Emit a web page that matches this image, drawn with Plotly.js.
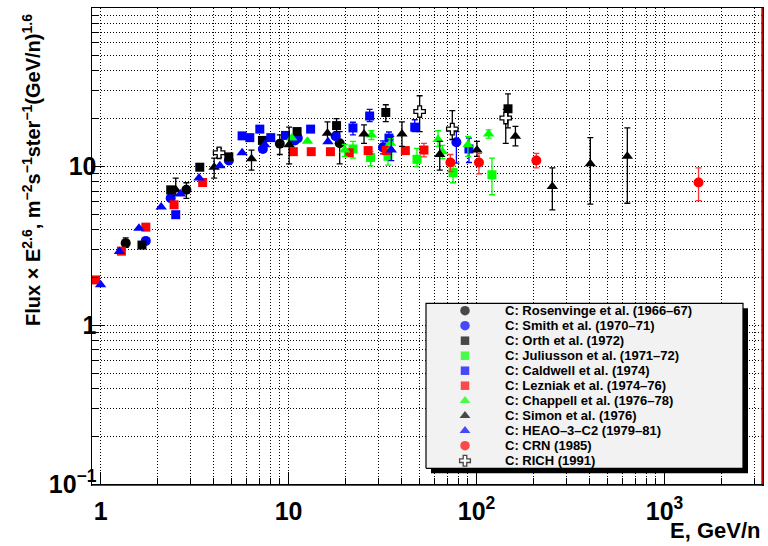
<!DOCTYPE html>
<html><head><meta charset="utf-8">
<script src="https://cdn.plot.ly/plotly-3.0.1.min.js"></script>
<style>html,body{margin:0;padding:0;background:#fff}#chart{width:768px;height:546px}</style>
</head><body><div id="chart"></div>
<script>
// ---- data (E in GeV/n, Flux x E^2.6) ----
const rosenX = [1.36, 2.86, 8.98, 18.7];
const rosenY = [3.29, 7.13, 13.9, 14.0];
const rosenHi = [3.55, 7.9, 15.8, 16.6];
const rosenLo = [3.1, 6.3, 11.9, 10.4];

const smithX = [1.74, 2.36, 4.81, 7.3, 10.8, 11.2, 17.8, 31.8, 78.1];
const smithY = [3.4, 6.32, 10.9, 12.9, 14.6, 15.1, 15.5, 13.2, 14.2];
const smithHi = [null, null, null, null, null, null, null, 14.5, 16.6];
const smithLo = [null, null, null, null, null, null, null, 12.0, 10.5];

const orthX = [1.66, 2.36, 3.37, 4.81, 7.26, 11.1, 18.0, 32.9, 147];
const orthY = [3.2, 7.13, 9.9, 11.5, 14.6, 16.6, 18.1, 21.9, 23.1];
const orthHi = [null, null, null, null, null, null, 20.0, 24.5, 28.7];
const orthLo = [null, null, null, null, null, null, 16.6, 19.2, 17.5];

const juliX = [22.0, 27.3, 33.8, 48.2, 75, 120.8];
const juliY = [12.9, 11.4, 11.6, 11.1, 9.16, 8.87];
const juliHi = [14.4, 12.4, 12.7, 13.0, 10.1, 11.3];
const juliLo = [11.3, 10.1, 10.2, 10.0, 7.9, 6.64];

const caldX = [2.51, 5.66, 6.22, 7.03, 8.04, 9.63, 13.1, 22.0, 27.0, 34.2, 46.9, 91.1];
const caldY = [4.97, 15.6, 15.2, 17.2, 15.2, 15.7, 17.2, 17.5, 20.8, 15.1, 17.7, 12.9];
const caldHi = [null, null, null, null, null, null, null, 19.0, 22.9, 16.5, 19.7, 15.1];
const caldLo = [null, null, null, null, null, null, null, 15.8, 19.2, 13.8, 16.6, 10.6];

const lezX = [0.94, 1.29, 1.74, 2.46, 3.49, 10.6, 13.2, 16.7, 21.0, 26.5, 33.1, 41.8, 52.5];
const lezY = [1.93, 2.93, 4.15, 5.74, 7.93, 12.4, 12.4, 12.4, 12.2, 12.6, 12.6, 12.6, 12.7];
const lezHi = [null, null, null, null, null, null, null, null, null, null, null, null, 14.0];
const lezLo = [null, null, null, null, null, null, null, null, null, null, null, null, 11.5];

const chapX = [10.4, 12.6, 19.9, 27.6, 34.8, 62.4, 65.8, 90, 116];
const chapY = [15.1, 14.4, 12.7, 15.8, 14.0, 14.8, 12.4, 13.7, 16.0];
const chapHi = [null, null, 13.8, 16.8, 15.0, 16.8, 13.6, 15.5, 17.0];
const chapLo = [null, null, 11.6, 14.8, 13.0, 13.4, 11.2, 11.6, 15.1];

const simonX = [2.51, 4.02, 6.35, 10.07, 16.1, 25.2, 40.1, 63.7, 100.5, 161, 253, 403, 634];
const simonY = [7.13, 9.9, 11.2, 13.7, 16.2, 16.0, 16.0, 11.9, 12.7, 15.5, 7.48, 10.4, 11.6];
const simonHi = [8.45, 11.3, 12.7, 17.7, 19.1, 18.3, 19.1, 14.4, 14.4, 17.9, 9.8, 15.2, 17.5];
const simonLo = [6.6, 8.45, 9.5, 10.4, 14.0, 14.0, 13.4, 9.5, 11.6, 13.5, 5.33, 5.8, 5.87];

const heaoX = [1.0, 1.26, 1.60, 2.10, 2.66, 3.34, 4.31, 5.66, 7.47, 16.2, 35.2];
const heaoY = [1.8, 2.91, 4.09, 5.55, 6.7, 8.45, 10.1, 12.2, 13.7, 14.3, 12.7];
const heaoHi = [null, null, null, null, null, null, null, null, null, null, 15.5];
const heaoLo = [null, null, null, null, null, null, null, null, null, null, 10.9];

const crnX = [72.6, 103, 208, 1517];
const crnY = [10.6, 10.6, 10.9, 7.93];
const crnHi = [11.9, 12.1, 12.1, 9.8];
const crnLo = [9.3, 9.0, 9.8, 6.1];

const richX = [4.27, 49.8, 74.3, 143];
const richY = [12.2, 22.2, 17.2, 20.2];
const richHi = [13.0, 27.9, 22.5, 22.9];
const richLo = [11.4, 16.6, 14.8, 14.0];

const seriesNames = [
  'C: Rosenvinge et al. (1966\u201367)',
  'C: Smith et al. (1970\u201371)',
  'C: Orth et al. (1972)',
  'C: Juliusson et al. (1971\u201372)',
  'C: Caldwell et al. (1974)',
  'C: Lezniak et al. (1974\u201376)',
  'C: Chappell et al. (1976\u201378)',
  'C: Simon et al. (1976)',
  'C: HEAO\u20133\u2013C2 (1979\u201381)',
  'C: CRN (1985)',
  'C: RICH (1991)'
];

// ---- styles ----
const FONT = 'Liberation Sans, Arial, Helvetica, sans-serif';
const styles = [
  {sym: 'circle', col: '#000000', size: 10},
  {sym: 'circle', col: '#0000ff', size: 10},
  {sym: 'square', col: '#000000', size: 9},
  {sym: 'square', col: '#00ff00', size: 9},
  {sym: 'square', col: '#0000ff', size: 9},
  {sym: 'square', col: '#ff0000', size: 9},
  {sym: 'triangle-up', col: '#00ff00', size: 10},
  {sym: 'triangle-up', col: '#000000', size: 10},
  {sym: 'triangle-up', col: '#0000ff', size: 10},
  {sym: 'circle', col: '#ff0000', size: 10},
  {sym: 'cross', col: '#ffffff', size: 9.5, line: '#000000'}
];
const errCols = ['#000000', '#0000ff', '#000000', '#00ff00', '#0000ff', '#ff3333',
                 '#00ff00', '#000000', '#0000ff', '#ff3333', '#000000'];

const dataSets = [
  [rosenX, rosenY, rosenHi, rosenLo],
  [smithX, smithY, smithHi, smithLo],
  [orthX, orthY, orthHi, orthLo],
  [juliX, juliY, juliHi, juliLo],
  [caldX, caldY, caldHi, caldLo],
  [lezX, lezY, lezHi, lezLo],
  [chapX, chapY, chapHi, chapLo],
  [simonX, simonY, simonHi, simonLo],
  [heaoX, heaoY, heaoHi, heaoLo],
  [crnX, crnY, crnHi, crnLo],
  [richX, richY, richHi, richLo]
];

const traces = dataSets.map((d, i) => {
  const [xs, ys, hi, lo] = d;
  const plus = ys.map((v, k) => hi[k] == null ? 0 : hi[k] - v);
  const minus = ys.map((v, k) => lo[k] == null ? 0 : v - lo[k]);
  const st = styles[i];
  return {
    type: 'scatter', mode: 'markers', name: seriesNames[i], x: xs, y: ys,
    showlegend: false,
    marker: {symbol: st.sym, color: st.col, size: st.size,
             line: {color: st.line || st.col, width: st.line ? 1.3 : 0}},
    error_y: {type: 'data', symmetric: false, array: plus, arrayminus: minus,
              color: errCols[i], thickness: 1.3, width: 3}
  };
});

// ---- custom legend (ROOT-like box) on an overlaid unit subplot ----
const plotL = 92, plotR = 762, plotT = 8, plotB = 484;
const pw = plotR - plotL, ph = plotB - plotT;
const px2x = p => (p - plotL) / pw;
const py2y = p => (plotB - p) / ph;
const legRow0 = 310.7, legStep = 15;
const legKeyX = 465, legTextX = 503;
const legBox = {x0: 426, x1: 743, y0: 303.3, y1: 468.3};

function boxTrace(dx, dy, fill, lineW) {
  const xa = px2x(legBox.x0 + dx), xb = px2x(legBox.x1 + dx);
  const ya = py2y(legBox.y1 + dy), yb = py2y(legBox.y0 + dy);
  return {
    type: 'scatter', mode: 'lines', xaxis: 'x2', yaxis: 'y2', showlegend: false,
    hoverinfo: 'skip', fill: 'toself', fillcolor: fill,
    x: [xa, xb, xb, xa, xa], y: [ya, ya, yb, yb, ya],
    line: {color: '#000000', width: lineW}
  };
}
traces.push(boxTrace(5, 5, '#000000', 0));
traces.push(boxTrace(0, 0, '#f2f2f2', 1.2));

traces.push({
  type: 'scatter', mode: 'markers', xaxis: 'x2', yaxis: 'y2', showlegend: false,
  hoverinfo: 'skip',
  x: seriesNames.map(() => px2x(legKeyX)),
  y: seriesNames.map((_, i) => py2y(legRow0 + i * legStep)),
  marker: {
    symbol: styles.map(s => s.sym),
    color: styles.map(s => s.col),
    size: styles.map(s => s.size - 0.5),
    line: {color: styles.map(s => s.line || s.col), width: styles.map(s => s.line ? 1.3 : 0)}
  }
});

const annotations = seriesNames.map((n, i) => ({
  xref: 'paper', yref: 'paper', x: px2x(legTextX), y: py2y(legRow0 + i * legStep),
  xanchor: 'left', yanchor: 'middle', showarrow: false, text: n,
  font: {family: FONT, size: 13, color: '#000', weight: 'bold'}
}));

annotations.push({
  xref: 'paper', yref: 'paper', x: px2x(31), y: py2y(170), textangle: -90,
  xanchor: 'center', yanchor: 'middle', showarrow: false,
  text: 'Flux \u00d7 E<sup>2.6</sup>, m<sup>\u22122</sup>s<sup>\u22121</sup>ster<sup>\u22121</sup>(GeV/n)<sup>1.6</sup>',
  font: {family: FONT, size: 20, color: '#000', weight: 'bold'}
});
annotations.push({
  xref: 'paper', yref: 'paper', x: 1, y: py2y(530),
  xanchor: 'right', yanchor: 'middle', showarrow: false,
  text: 'E, GeV/n',
  font: {family: FONT, size: 22, color: '#000', weight: 'bold'}
});

const shapes = [
  {type: 'line', xref: 'paper', yref: 'paper', layer: 'above',
   x0: 1, x1: 1, y0: 0, y1: 1, line: {color: '#ff0000', width: 1.5}},
  {type: 'line', xref: 'paper', yref: 'paper', layer: 'above',
   ysizemode: 'pixel', yanchor: 0, y0: -1.5, y1: -1.5, x0: 0, x1: 1,
   line: {color: '#ff0000', width: 1.2}}
];

const gridStyle = {showgrid: true, gridcolor: '#000000', griddash: '1px,2px', gridwidth: 1};
const tickFont = {family: FONT, size: 20, color: '#000', weight: 'bold'};

const layout = {
  width: 768, height: 546,
  margin: {l: plotL, r: 768 - plotR, t: plotT, b: 546 - plotB, pad: 0},
  paper_bgcolor: '#ffffff', plot_bgcolor: '#ffffff',
  showlegend: false,
  xaxis: Object.assign({
    type: 'log', range: [Math.log10(0.9), Math.log10(3300)], dtick: 1,
    exponentformat: 'power', ticks: 'inside', ticklen: 12, tickwidth: 1, tickcolor: '#000',
    showline: true, linecolor: '#000', linewidth: 1.5, mirror: true, zeroline: false,
    tickfont: tickFont, ticklabelstandoff: 5,
    minor: Object.assign({dtick: 'D1', ticks: 'inside', ticklen: 6, tickcolor: '#000', tickwidth: 1}, gridStyle)
  }, gridStyle),
  yaxis: Object.assign({
    type: 'log', range: [-1, 1.9985], dtick: 1,
    exponentformat: 'power', ticks: 'inside', ticklen: 12, tickwidth: 1, tickcolor: '#000',
    showline: true, linecolor: '#000', linewidth: 1.5, mirror: true, zeroline: false,
    tickfont: tickFont, ticklabelstandoff: -10,
    minor: Object.assign({dtick: 'D1', ticks: 'inside', ticklen: 6, tickcolor: '#000', tickwidth: 1}, gridStyle)
  }, gridStyle),
  xaxis2: {overlaying: 'x', range: [0, 1], visible: false, fixedrange: true},
  yaxis2: {overlaying: 'y', range: [0, 1], visible: false, fixedrange: true},
  annotations: annotations,
  shapes: shapes
};

Plotly.newPlot('chart', traces, layout, {staticPlot: true, displayModeBar: false});
</script>
</body></html>
